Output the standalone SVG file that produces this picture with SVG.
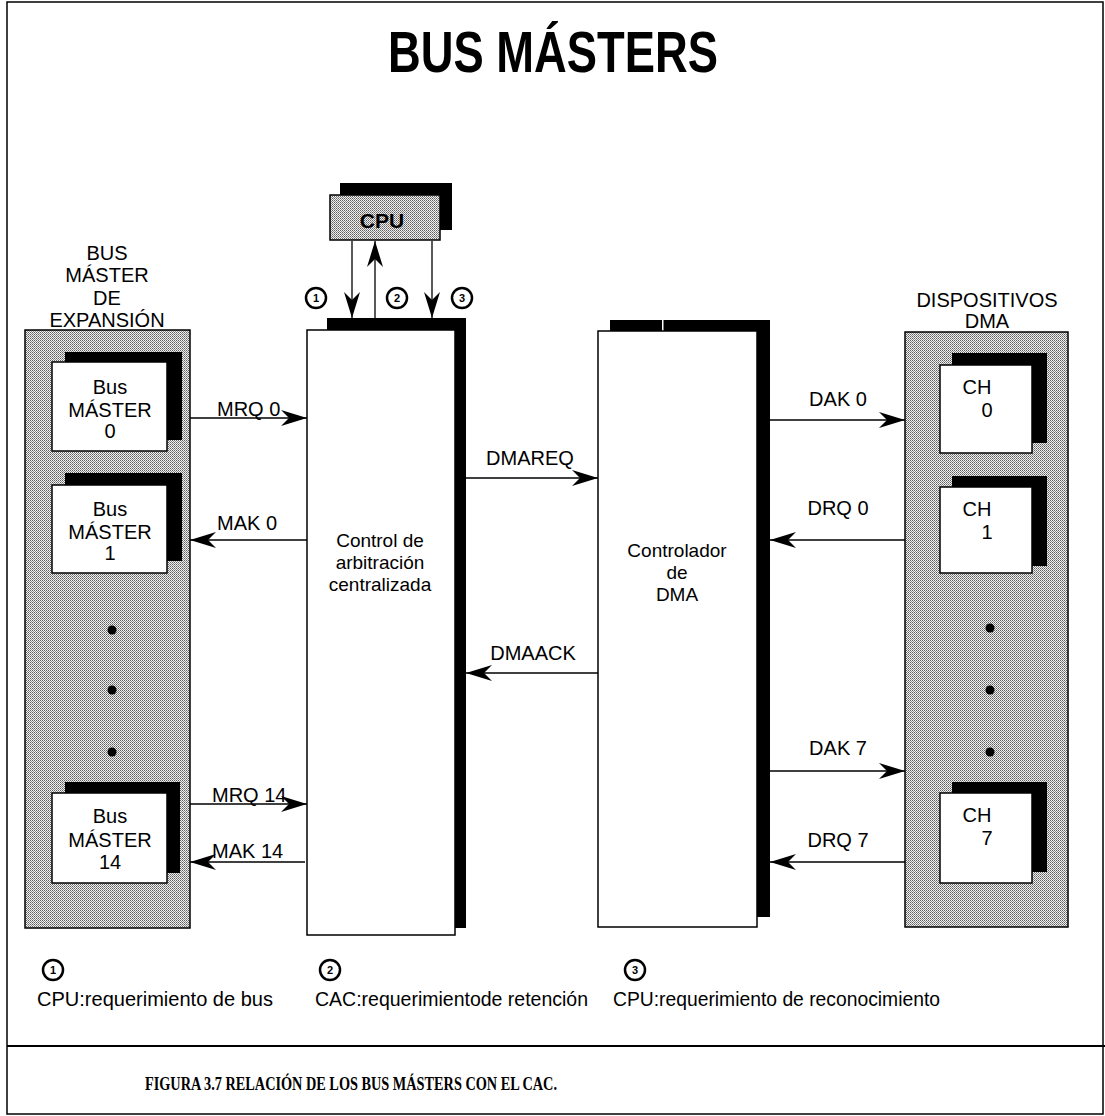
<svg xmlns="http://www.w3.org/2000/svg" width="1105" height="1116" viewBox="0 0 1105 1116">
<defs>
<pattern id="stip" width="2" height="2" patternUnits="userSpaceOnUse">
<rect width="2" height="2" fill="#f0f0f0"/>
<rect width="1" height="1" fill="#606060"/>
<rect x="1" y="1" width="1" height="1" fill="#8a8a8a"/>
</pattern>
<marker id="ah" markerWidth="28" markerHeight="18" refX="26" refY="8" orient="auto" markerUnits="userSpaceOnUse">
<path d="M0,0 L26,8 L0,16 L8,8 z" fill="#000"/>
</marker>
<style>
.t{font-family:"Liberation Sans",Arial,sans-serif;font-size:20px;fill:#000}
.s{font-size:19px}
.c{text-anchor:middle}
.box{fill:#fff;stroke:#000;stroke-width:1.5}
.sh{fill:#000}
.pan{fill:url(#stip);stroke:#000;stroke-width:1.5}
.ar{stroke:#000;stroke-width:1.3;fill:none;marker-end:url(#ah)}
.num{font-family:"Liberation Sans",Arial,sans-serif;font-size:11px;font-weight:bold;text-anchor:middle}
.circ{fill:#fff;stroke:#000;stroke-width:2.5}
</style>
</defs>
<rect x="7" y="2" width="1096" height="1112" fill="#fff" stroke="#000" stroke-width="1.5"/>
<line x1="7" y1="1046" x2="1105" y2="1046" stroke="#000" stroke-width="2"/>
<text x="553" y="72" font-family="Liberation Sans,Arial,sans-serif" font-weight="bold" font-size="58" text-anchor="middle" textLength="330" lengthAdjust="spacingAndGlyphs">BUS MÁSTERS</text>

<g id="cpu">
<rect class="sh" x="340" y="183" width="112" height="47"/>
<rect x="330" y="195" width="110" height="45" fill="url(#stip)" stroke="#000" stroke-width="1.5"/>
<text x="382" y="228" font-family="Liberation Sans,Arial,sans-serif" font-weight="bold" font-size="21" text-anchor="middle">CPU</text>
</g>

<g id="steps">
<circle class="circ" cx="316" cy="298" r="10"/><text class="num" x="316" y="302">1</text>
<circle class="circ" cx="397" cy="298" r="10"/><text class="num" x="397" y="302">2</text>
<circle class="circ" cx="462" cy="298" r="10"/><text class="num" x="462" y="302">3</text>
</g>

<g id="cac">
<rect class="sh" x="327" y="318" width="139" height="12"/>
<rect class="sh" x="455" y="318" width="11" height="610"/>
<rect class="box" x="307" y="330" width="148" height="605"/>
<text class="t s c" x="380" y="547">Control de</text>
<text class="t s c" x="380" y="569">arbitración</text>
<text class="t s c" x="380" y="591">centralizada</text>
</g>

<g id="dma">
<rect class="sh" x="610" y="320" width="160" height="11"/>
<rect x="662" y="320" width="1.5" height="11" fill="#fff"/>
<rect class="sh" x="757" y="320" width="13" height="597"/>
<rect class="box" x="598" y="331" width="159" height="596"/>
<text class="t s c" x="677" y="557">Controlador</text>
<text class="t s c" x="677" y="579">de</text>
<text class="t s c" x="677" y="601">DMA</text>
</g>

<g id="expansion">
<text class="t c" x="107" y="260">BUS</text>
<text class="t c" x="107" y="282">MÁSTER</text>
<text class="t c" x="107" y="305">DE</text>
<text class="t c" x="107" y="327">EXPANSIÓN</text>
<rect class="pan" x="25" y="330" width="165" height="598"/>
<circle cx="112" cy="630" r="4.5"/>
<circle cx="112" cy="690" r="4.5"/>
<circle cx="112" cy="752" r="4.5"/>
</g>
<g id="bm0">
<rect class="sh" x="65" y="352" width="117" height="88"/>
<rect class="box" x="52" y="362" width="115" height="89"/>
<text class="t c" x="110" y="394">Bus</text>
<text class="t c" x="110" y="417">MÁSTER</text>
<text class="t c" x="110" y="438">0</text>
</g>
<g id="bm1">
<rect class="sh" x="65" y="473" width="117" height="88"/>
<rect class="box" x="52" y="485" width="115" height="88"/>
<text class="t c" x="110" y="516">Bus</text>
<text class="t c" x="110" y="539">MÁSTER</text>
<text class="t c" x="110" y="560">1</text>
</g>
<g id="bm14">
<rect class="sh" x="65" y="782" width="115" height="91"/>
<rect class="box" x="52" y="793" width="115" height="90"/>
<text class="t c" x="110" y="823">Bus</text>
<text class="t c" x="110" y="847">MÁSTER</text>
<text class="t c" x="110" y="869">14</text>
</g>

<g id="dispositivos">
<text class="t c" x="987" y="307">DISPOSITIVOS</text>
<text class="t c" x="987" y="328">DMA</text>
<rect class="pan" x="905" y="332" width="163" height="595"/>
<circle cx="990" cy="628" r="4.5"/>
<circle cx="990" cy="690" r="4.5"/>
<circle cx="990" cy="752" r="4.5"/>
</g>
<g id="ch0">
<rect class="sh" x="952" y="353" width="95" height="90"/>
<rect class="box" x="940" y="365" width="92" height="88"/>
<text class="t c" x="977" y="394">CH</text>
<text class="t c" x="987" y="417">0</text>
</g>
<g id="ch1">
<rect class="sh" x="952" y="476" width="95" height="90"/>
<rect class="box" x="940" y="487" width="92" height="86"/>
<text class="t c" x="977" y="516">CH</text>
<text class="t c" x="987" y="539">1</text>
</g>
<g id="ch7">
<rect class="sh" x="952" y="782" width="95" height="90"/>
<rect class="box" x="940" y="793" width="92" height="90"/>
<text class="t c" x="977" y="822">CH</text>
<text class="t c" x="987" y="845">7</text>
</g>

<g id="connectors">
<line class="ar" x1="352" y1="241" x2="352" y2="318"/>
<line class="ar" x1="375" y1="318" x2="375" y2="241"/>
<line class="ar" x1="432" y1="241" x2="432" y2="318"/>
<line class="ar" x1="190" y1="418" x2="307" y2="418"/>
<line class="ar" x1="307" y1="540" x2="190" y2="540"/>
<line class="ar" x1="190" y1="804" x2="307" y2="804"/>
<line class="ar" x1="305" y1="862" x2="190" y2="862"/>
<line class="ar" x1="466" y1="478" x2="598" y2="478"/>
<line class="ar" x1="598" y1="673" x2="466" y2="673"/>
<line class="ar" x1="770" y1="420" x2="905" y2="420"/>
<line class="ar" x1="905" y1="540" x2="770" y2="540"/>
<line class="ar" x1="770" y1="771" x2="905" y2="771"/>
<line class="ar" x1="905" y1="862" x2="770" y2="862"/>
<text class="t" x="217" y="416">MRQ 0</text>
<text class="t" x="217" y="530">MAK 0</text>
<text class="t" x="212" y="802">MRQ 14</text>
<text class="t" x="212" y="858">MAK 14</text>
<text class="t c" x="530" y="465">DMAREQ</text>
<text class="t c" x="533" y="660">DMAACK</text>
<text class="t c" x="838" y="406">DAK 0</text>
<text class="t c" x="838" y="515">DRQ 0</text>
<text class="t c" x="838" y="755">DAK 7</text>
<text class="t c" x="838" y="847">DRQ 7</text>
</g>

<g id="legend">
<circle class="circ" cx="53" cy="970" r="10"/><text class="num" x="53" y="974">1</text>
<circle class="circ" cx="330" cy="970" r="10"/><text class="num" x="330" y="974">2</text>
<circle class="circ" cx="635" cy="970" r="10"/><text class="num" x="635" y="974">3</text>
<text class="t" x="37" y="1006" textLength="236" lengthAdjust="spacingAndGlyphs">CPU:requerimiento de bus</text>
<text class="t" x="315" y="1006" textLength="273" lengthAdjust="spacingAndGlyphs">CAC:requerimientode retención</text>
<text class="t" x="613" y="1006" textLength="327" lengthAdjust="spacingAndGlyphs">CPU:requerimiento de reconocimiento</text>
</g>
<text x="145" y="1090" font-family="Liberation Serif,Times New Roman,serif" font-weight="bold" font-size="18" textLength="412" lengthAdjust="spacingAndGlyphs">FIGURA 3.7  RELACIÓN DE LOS BUS MÁSTERS CON EL CAC.</text>
</svg>
